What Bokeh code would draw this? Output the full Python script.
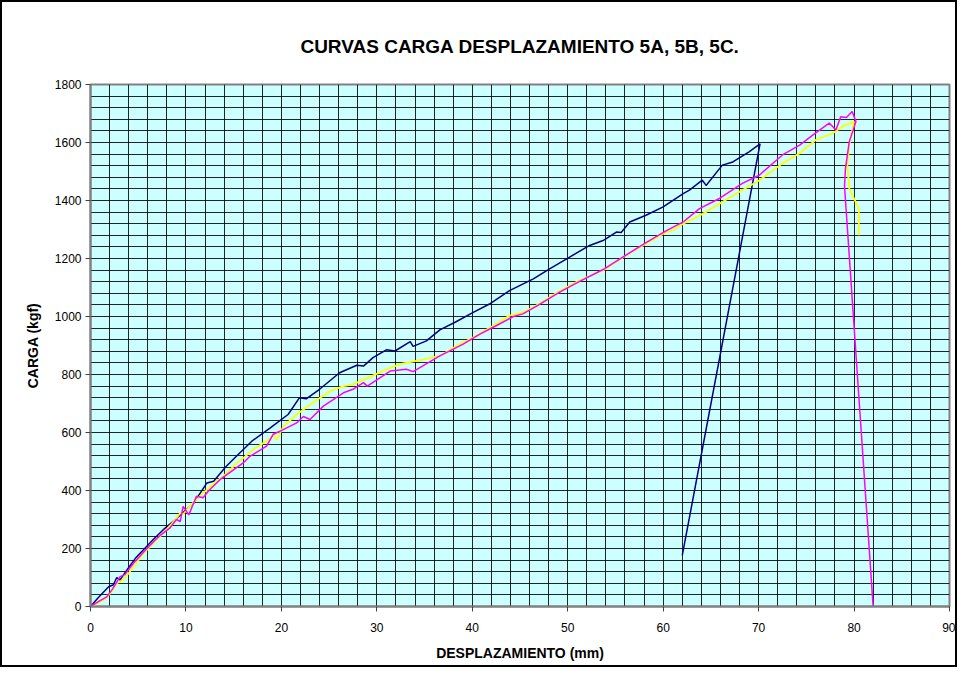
from bokeh.plotting import figure
from bokeh.models import SingleIntervalTicker, Range1d
from bokeh.embed import file_html
from bokeh.resources import INLINE

# 5A (navy)
x_5a = [0, 0.8, 1.9, 2.4, 2.75, 3.1, 3.8, 4.7, 5.7, 6.6, 7.6, 8.7, 9.4, 10.8, 12.2, 12.9,
        14.2, 15.5, 16.9, 18.8, 20.7, 21.9, 22.6, 24.0, 26.1, 27.9, 28.6, 29.6, 31.0, 31.9,
        33.5, 33.8, 35.2, 36.6, 38.3, 40.1, 41.8, 43.9, 46.4, 48.1, 50.2, 52.3, 53.7, 55.1,
        55.6, 56.5, 58.2, 60.0, 62.1, 62.75, 64.1, 64.5, 66.2, 67.3, 69.0, 70.15, 62.0]
y_5a = [0, 30, 68, 75, 100, 92, 125, 166, 201, 232, 264, 295, 315, 356, 426, 432,
        483, 525, 570, 615, 662, 720, 716, 749, 806, 832, 829, 858, 885, 881,
        913, 897, 916, 954, 982, 1014, 1043, 1089, 1130, 1164, 1205, 1245, 1262, 1291,
        1290, 1326, 1349, 1378, 1424, 1436, 1470, 1452, 1522, 1533, 1568, 1595, 176]

# 5B (magenta)
x_5b = [0, 1.0, 1.7, 2.3, 3.1, 3.6, 4.5, 5.5, 6.8, 7.3, 8.3, 9.0, 9.4, 9.7, 10.3, 11.1,
        11.8, 12.4, 13.6, 16.0, 16.7, 18.45, 19.15, 20.2, 21.6, 22.3, 23.0, 24.4, 26.5,
        27.5, 28.6, 29.0, 31.4, 33.1, 33.8, 36.6, 39.0, 40.8, 42.5, 44.3, 45.3, 46.7, 49.2,
        51.2, 53.7, 56.1, 58.2, 60.3, 62.1, 63.8, 65.9, 68.3, 70.1, 72.5, 74.3, 75.7, 77.4,
        78.1, 78.6, 79.2, 79.8, 80.2, 79.5, 79.1, 79.0, 82.0]
y_5b = [0, 20, 33, 60, 103, 110, 149, 185, 230, 245, 270, 300, 293, 345, 316, 380,
        375, 400, 438, 495, 518, 553, 594, 610, 633, 655, 645, 691, 737,
        749, 772, 760, 812, 818, 810, 864, 904, 939, 968, 1000, 1009, 1035, 1085,
        1120, 1162, 1212, 1255, 1295, 1326, 1372, 1407, 1459, 1488, 1557, 1591, 1626, 1667,
        1643, 1689, 1686, 1707, 1672, 1603, 1510, 1450, 0]

# 5C (yellow)
x_5c = [0, 1.36, 2.2, 2.75, 3.3, 3.98, 4.8, 5.55, 6.5, 7.64, 8.5, 9.4, 9.7, 10.6, 11.8,
        12.8, 13.9, 15.2, 17.06, 18.4, 19.2, 19.5, 20.2, 21.6, 23.3, 25.1, 26.5, 27.5, 28.9,
        30.5, 32.4, 34.8, 36.6, 38.3, 40.1, 42.2, 43.9, 45.3, 46.7, 49.2, 51.2, 53.7, 56.1,
        58.2, 60.3, 61.0, 62.1, 64.5, 66.2, 68.0, 70.1, 72.5, 74.3, 76.0, 77.75, 78.8, 80.0,
        79.5, 79.3, 79.5, 80.5, 80.5]
y_5c = [0, 22, 50, 80, 88, 114, 150, 183, 215, 253, 285, 322, 318, 352, 391,
        420, 449, 490, 541, 570, 590, 575, 620, 662, 703, 743, 760, 766, 786,
        810, 836, 851, 864, 897, 928, 968, 1003, 1014, 1038, 1089, 1124, 1159, 1210,
        1251, 1291, 1297, 1320, 1360, 1395, 1430, 1470, 1528, 1563, 1609, 1632, 1655, 1672,
        1591, 1522, 1441, 1372, 1280]

FONT = "Liberation Sans"

p = figure(width=957, height=667, output_backend="svg", toolbar_location=None,
           x_range=Range1d(0, 90), y_range=Range1d(0, 1800),
           title="CURVAS CARGA DESPLAZAMIENTO 5A, 5B, 5C.",
           min_border_left=88, min_border_right=10, min_border_top=82, min_border_bottom=63)
p.styles = {"border": "2px solid black"}

p.title.align = "center"
p.title.text_font = FONT
p.title.text_font_size = "19px"
p.title.text_font_style = "bold"
p.title.text_color = "black"
p.title.standoff = 56

p.background_fill_color = "#CCFFFF"
p.border_fill_color = "white"
p.outline_line_color = "#808080"
p.outline_line_width = 2

p.xaxis.ticker = SingleIntervalTicker(interval=10, num_minor_ticks=0)
p.yaxis.ticker = SingleIntervalTicker(interval=200, num_minor_ticks=0)
p.xgrid.ticker = SingleIntervalTicker(interval=2, num_minor_ticks=0)
p.ygrid.ticker = SingleIntervalTicker(interval=40, num_minor_ticks=0)
for g in (p.xgrid, p.ygrid):
    g.grid_line_color = "black"
    g.grid_line_alpha = 0.85
    g.grid_line_width = 1

for ax in (p.xaxis, p.yaxis):
    ax.axis_line_color = "#808080"
    ax.axis_line_width = 2
    ax.major_tick_line_color = "#404040"
    ax.major_tick_in = 0
    ax.major_tick_out = 5
    ax.minor_tick_line_color = None
    ax.major_label_text_font = FONT
    ax.major_label_text_font_size = "12px"
    ax.major_label_text_color = "black"
    ax.axis_label_text_font = FONT
    ax.axis_label_text_font_size = "14px"
    ax.axis_label_text_font_style = "bold"
    ax.axis_label_text_color = "black"

p.xaxis.axis_label = "DESPLAZAMIENTO (mm)"
p.yaxis.axis_label = "CARGA (kgf)"
p.xaxis.major_label_standoff = 11
p.xaxis.axis_label_standoff = 10
p.yaxis.major_label_standoff = 4
p.yaxis.axis_label_standoff = 11

p.line(x_5a, y_5a, line_color="#000080", line_width=1.5)
p.line(x_5c, y_5c, line_color="#FFFF00", line_width=1.8)
p.line(x_5b, y_5b, line_color="#FF00FF", line_width=1.5)

open("out.html", "w").write(file_html(p, INLINE))
